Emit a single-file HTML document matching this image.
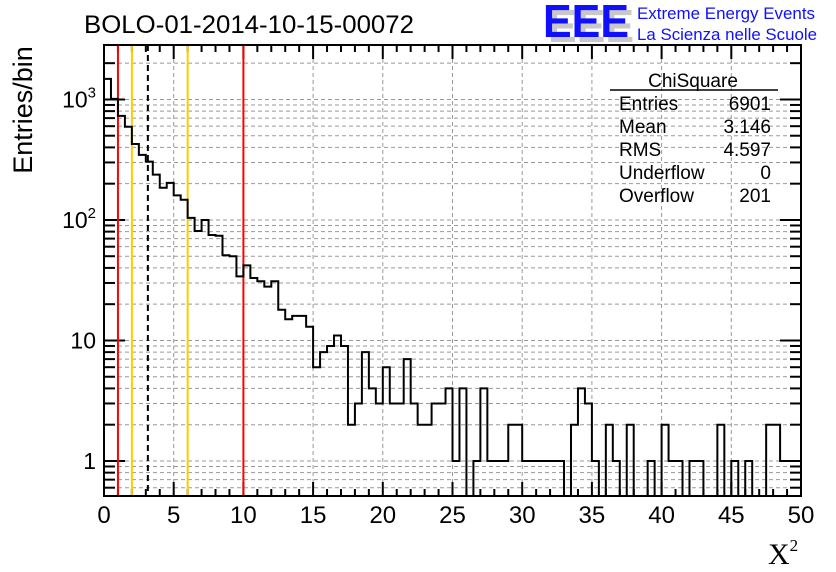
<!DOCTYPE html>
<html><head><meta charset="utf-8"><style>
body{margin:0;background:#fff;}
svg{display:block;font-family:"Liberation Sans",sans-serif;}
</style></head><body>
<svg id="c" width="836" height="572" viewBox="0 0 836 572" xmlns="http://www.w3.org/2000/svg">
<rect x="0" y="0" width="836" height="572" fill="#fff"/>
<g id="grid"></g>
<g id="ticks"></g>
<g id="vlines"></g>
<path id="hist" fill="none" stroke="#000" stroke-width="2"/>
<rect x="104" y="45" width="697" height="451" fill="none" stroke="#000" stroke-width="2"/>
<g id="labels" font-size="23"></g>
<text x="84" y="33" font-size="25" textLength="330" lengthAdjust="spacingAndGlyphs">BOLO-01-2014-10-15-00072</text>
<text transform="translate(32,110) rotate(-90)" text-anchor="middle" font-size="27">Entries/bin</text>
<text x="768" y="564" font-family="Liberation Serif,serif" font-size="30">X<tspan font-size="17" dy="-13">2</tspan></text>
<g>
<text x="548" y="42" font-size="46" font-weight="bold" fill="#c8c8c8" textLength="86" lengthAdjust="spacingAndGlyphs">EEE</text>
<text x="543" y="37" font-size="46" font-weight="bold" fill="#1010ff" textLength="86" lengthAdjust="spacingAndGlyphs">EEE</text>
<text x="637" y="19" font-size="17" fill="#1010ff" textLength="178" lengthAdjust="spacingAndGlyphs">Extreme Energy Events</text>
<text x="637" y="40" font-size="17" fill="#1010ff" textLength="180" lengthAdjust="spacingAndGlyphs">La Scienza nelle Scuole</text>
</g>
<g font-size="19">
<text x="693" y="87" text-anchor="middle">ChiSquare</text>
<line x1="610" y1="90" x2="778" y2="90" stroke="#000" stroke-width="1.5"/>
<text x="619" y="110">Entries</text><text x="771" y="110" text-anchor="end">6901</text>
<text x="619" y="133">Mean</text><text x="771" y="133" text-anchor="end">3.146</text>
<text x="619" y="156">RMS</text><text x="771" y="156" text-anchor="end">4.597</text>
<text x="619" y="179">Underflow</text><text x="771" y="179" text-anchor="end">0</text>
<text x="619" y="202">Overflow</text><text x="771" y="202" text-anchor="end">201</text>
</g>
</svg>
<script>
const counts = [1480,1010,730,594,427,347,305,238,185,203,160,147,104,81,100,75,74,51,50,34,
42,33,31,28,31,18,15,16,16,13,6,8,9,11,9,2,3,8,4,3,
6,3,3,7,3,2,2,3,3,4,1,4,0,1,4,1,1,1,2,2,
1,1,1,1,1,1,0,2,4,3,1,0,2,1,0,2,0,0,1,0,
2,1,1,0,1,1,0,0,2,0,1,0,1,0,0,2,2,1,1,1];
const binWidth = [0.5];
const xTicks = [0,5,10,15,20,25,30,35,40,45,50];
const yTickVals = [1,10,100,1000];
const yTickLabels = ["1","10","10²","10³"];
const refLines = [1,2,3.146,6,10];
const refColors = ["#ff0000","#ffcc00","#000","#ffcc00","#ff0000"];

const X0=104,X1=801,Y0=496,Y1=45, xmin=0,xmax=50, ymin=0.512, ymax=2830;
const sx=v=>X0+(v-xmin)/(xmax-xmin)*(X1-X0);
const sy=v=>{ if(v<=0) return Y0; return Y0-(Math.log10(v)-Math.log10(ymin))/(Math.log10(ymax)-Math.log10(ymin))*(Y0-Y1); };
const NS="http://www.w3.org/2000/svg";
function mk(tag,parent,attrs){const e=document.createElementNS(NS,tag);for(const k in attrs)e.setAttribute(k,attrs[k]);parent.appendChild(e);return e;}
const grid=document.getElementById('grid'), ticks=document.getElementById('ticks'), labels=document.getElementById('labels'), vl=document.getElementById('vlines');

for(let v=0; v<=50; v+=1){
  const x=sx(v), major=(v%5===0);
  if(major && v>0 && v<50){ const g=mk('line',grid,{x1:x,y1:Y1,x2:x,y2:Y0,stroke:'#999','stroke-dasharray':'4,3'});
    
     }
  const L=major?14:7;
  mk('line',ticks,{x1:x,y1:Y0,x2:x,y2:Y0-L,stroke:'#000','stroke-width':2});
  mk('line',ticks,{x1:x,y1:Y1,x2:x,y2:Y1+L,stroke:'#000','stroke-width':2});
}
xTicks.forEach(v=>{const t=mk('text',labels,{x:sx(v),y:523,'text-anchor':'middle','font-size':24});t.textContent=String(v);
  
  });
for(let d=-1; d<=3; d++){
  for(let m=1;m<=9;m++){
    const v=m*Math.pow(10,d); if(v<ymin||v>ymax) continue;
    const y=sy(v), major=(m===1);
    const g=mk('line',grid,{x1:X0,y1:y,x2:X1,y2:y,stroke:'#999','stroke-dasharray':'4,3'});
    
    
    const L=major?21:11;
    mk('line',ticks,{x1:X0,y1:y,x2:X0+L,y2:y,stroke:'#000','stroke-width':2});
    mk('line',ticks,{x1:X1,y1:y,x2:X1-L,y2:y,stroke:'#000','stroke-width':2});
  }
}
yTickVals.forEach((v,i)=>{const lab=yTickLabels[i];const t=mk('text',labels,{x:96,y:sy(v)+8,'text-anchor':'end'});
  
  
  if(lab.length>2 && lab.startsWith('10')){t.textContent='10';const s=mk('tspan',t,{'font-size':15,dy:-10});s.textContent=lab.slice(2)==='²'?'2':'3';}
  else t.textContent=lab;});
refLines.forEach((v,i)=>{const l=mk('line',vl,{x1:sx(v),y1:Y1,x2:sx(v),y2:Y0,stroke:refColors[i],'stroke-width':2});
  if(i===2) l.setAttribute('stroke-dasharray','6,4');
  
  });
const w=binWidth[0];
let d='M'+sx(0)+','+Y0;
counts.forEach((c,i)=>{const y=Math.max(sy(c),Y1);const xa=sx(i*w),xb=sx((i+1)*w);d+=' L'+xa+','+y+' L'+xb+','+y;});
d+=' L'+sx(counts.length*w)+','+Y0;
document.getElementById('hist').setAttribute('d',d);
</script>
</body></html>
